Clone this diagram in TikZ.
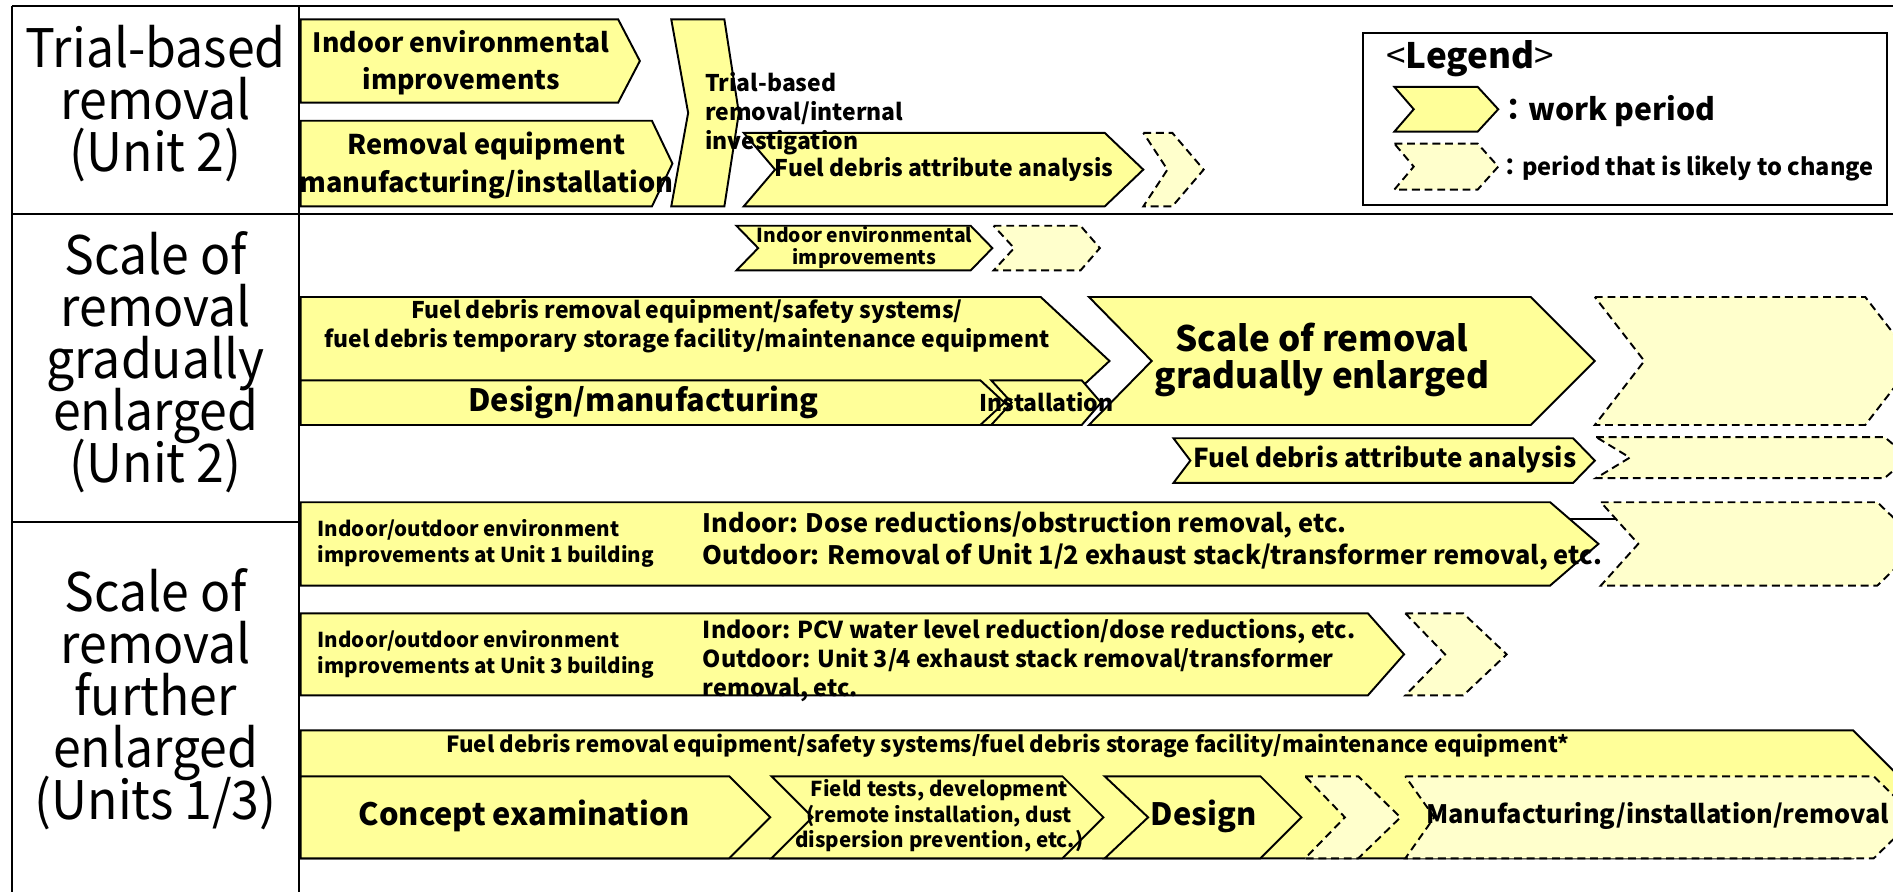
\documentclass[tikz,border=0pt]{standalone}
\usepackage{fontspec}
\setmainfont{Noto Sans CJK JP}
\newfontfamily\lblfont{Noto Sans CJK JP}[FakeStretch=0.94]
\setlength{\lineskiplimit}{-100pt}
\setlength{\lineskip}{0pt}
\definecolor{yel}{HTML}{FFFF99}
\definecolor{lyel}{HTML}{FFFFCC}
\newcommand{\fsz}[2]{\fontsize{#1}{#2}\selectfont\lineskiplimit=-100pt\lineskip=0pt}
\newcommand{\chev}[7][]{%
  \pgfmathsetmacro{\chevmid}{(#4+#5)/2}%
  \path[#1] (#2,#4) -- (#3,#4) -- (#3+#7,\chevmid) -- (#3,#5) -- (#2,#5) -- (#2+#6,\chevmid) -- cycle;}
\begin{document}
\begin{tikzpicture}[x=1pt,y=-1pt,
  wbox/.style={fill=yel,draw=black,line width=1.6pt},
  pbox/.style={fill=lyel,draw=black,line width=1.6pt,dash pattern=on 6.5pt off 4pt},
  frame/.style={draw=black,line width=1.6pt},
  lbl/.style={font=\lblfont\fsz{44}{43},align=center},
  txt/.style={align=center,inner sep=0pt}]
\useasboundingbox (0,0) rectangle (1568,739);
\clip (0,0) rectangle (1568,739);
\fill[white] (0,0) rectangle (1568,739);
% frame
\draw[frame] (10,5) -- (1568,5);
\draw[frame] (10,5) -- (10,739);
\draw[frame] (248,5) -- (248,739);
\draw[frame] (10,177) -- (1568,177);
\draw[frame] (10,432) -- (248,432);
% row labels
\node[lbl] (l1) at (129,86) {Trial-based\\removal\\(Unit 2)};
\node[lbl] (l2) at (129,300) {Scale of\\removal\\gradually\\enlarged\\(Unit 2)};
\node[lbl] (l3) at (129,579) {Scale of\\removal\\further\\enlarged\\(Units 1/3)};
% ---- row 1 shapes
\chev[wbox]{249}{512}{16}{85}{0}{18}
\chev[wbox]{249}{540}{100}{171}{0}{17}
\chev[wbox]{556}{600}{16}{171}{14}{12}
\chev[wbox]{616}{915}{110}{171}{26}{32}
\chev[pbox]{947}{971}{110}{171}{20}{26}
% legend
\draw[frame] (1129,27) rectangle (1563,170);
\chev[wbox]{1155}{1224}{72}{109}{16}{17}
\chev[pbox]{1155}{1224}{119}{157}{16}{17}
% ---- row 2 shapes
\chev[wbox]{610}{804}{187}{224}{18}{18}
\chev[pbox]{823}{895}{187}{224}{17}{16}
\chev[wbox]{249}{862}{246}{352}{0}{57}
\chev[wbox]{249}{812}{315}{352}{0}{20}
\chev[wbox]{821}{896}{315}{352}{17}{16}
\chev[wbox]{902}{1268}{246}{352}{52}{53}
\chev[pbox]{1321}{1545}{246}{352}{41}{41}
\chev[wbox]{972}{1303}{363}{400}{14}{18}
\chev[pbox]{1322}{1561}{362}{396}{28}{20}
% ---- row 3 shapes
\chev[wbox]{249}{1284}{416}{485}{0}{40}
\coordinate (ln1) at (1300,430);
\coordinate (ln2) at (1340,430);
\draw[line width=1.2pt] (ln1) -- (ln2);
\chev[pbox]{1326}{1555}{416}{485}{31}{36}
\chev[wbox]{249}{1133}{508}{576}{0}{30}
\chev[pbox]{1164}{1212}{508}{576}{33}{36}
\chev[wbox]{249}{1535}{605}{711}{0}{53}
\chev[wbox]{249}{604}{643}{711}{0}{34}
\chev[wbox]{639}{880}{643}{711}{34}{34}
\chev[wbox]{915}{1044}{643}{711}{36}{34}
\chev[pbox]{1081}{1125}{643}{711}{33}{35}
\chev[pbox]{1164}{1552}{643}{711}{24}{35}
% ---- texts row 1
\node[txt,font=\fsz{22}{31}\bfseries] (r1a) at (382,52) {Indoor environmental\\improvements};
\node[txt,font=\fsz{22.5}{31}\bfseries] (r1b) at (403,137) {Removal equipment\\manufacturing/installation};
\node[txt,anchor=west,align=left,font=\fsz{19}{24}\bfseries] (r1c) at (584,94) {Trial-based\\removal/internal\\investigation};
\node[txt,font=\fsz{19}{24}\bfseries] (r1d) at (782,140) {Fuel debris attribute analysis};
\node[txt,anchor=west,font=\fsz{29}{32}] (lg) at (1148,49) {<\textbf{Legend}>};
\node[txt,anchor=west,font=\fsz{25}{28}\bfseries] (lg1) at (1241,92) {：work period};
\node[txt,anchor=west,font=\fsz{19.5}{22}\bfseries] (lg2) at (1241,140) {：period that is likely to change};
% texts row 2
\node[txt,font=\fsz{16}{18}\bfseries] (r2a) at (716,205) {Indoor environmental\\improvements};
\node[txt,font=\fsz{19}{24}\bfseries] (r2b) at (569,270) {Fuel debris removal equipment/safety systems/\\fuel debris temporary storage facility/maintenance equipment};
\node[txt,font=\fsz{25.5}{30}\bfseries] (r2c) at (533,333) {Design/manufacturing};
\node[txt,font=\fsz{19}{24}\bfseries] (r2d) at (867,333) {Installation};
\node[txt,font=\fsz{29}{31}\bfseries] (r2e) at (1095,298) {Scale of removal\\gradually enlarged};
\node[txt,font=\fsz{21.5}{26}\bfseries] (r2f) at (1147,381) {Fuel debris attribute analysis};
% texts row 3
\node[txt,anchor=west,align=left,font=\fsz{17}{21}\bfseries] (r3a) at (263,450) {Indoor/outdoor environment\\improvements at Unit 1 building};
\node[txt,anchor=west,align=left,font=\fsz{21}{26}\bfseries] (r3b) at (582,448) {Indoor: Dose reductions/obstruction removal, etc.\\Outdoor: Removal of Unit 1/2 exhaust stack/transformer removal, etc.};
\node[txt,anchor=west,align=left,font=\fsz{17}{21}\bfseries] (r3c) at (263,542) {Indoor/outdoor environment\\improvements at Unit 3 building};
\node[txt,anchor=west,align=left,font=\fsz{19.3}{24}\bfseries] (r3d) at (582,547) {Indoor: PCV water level reduction/dose reductions, etc.\\Outdoor: Unit 3/4 exhaust stack removal/transformer\\removal, etc.};
\node[txt,font=\fsz{18.4}{24}\bfseries] (r3e) at (835,618) {Fuel debris removal equipment/safety systems/fuel debris storage facility/maintenance equipment*};
\node[txt,font=\fsz{25.5}{30}\bfseries] (r3f) at (434,676) {Concept examination};
\node[txt,font=\fsz{17}{21}\bfseries] (r3g) at (778,676) {Field tests, development\\(remote installation, dust\\dispersion prevention, etc.)};
\node[txt,font=\fsz{25.5}{30}\bfseries] (r3h) at (997,676) {Design};
\node[txt,font=\fsz{21}{26}\bfseries] (r3i) at (1373,676) {Manufacturing/installation/removal};
\end{tikzpicture}
\end{document}
